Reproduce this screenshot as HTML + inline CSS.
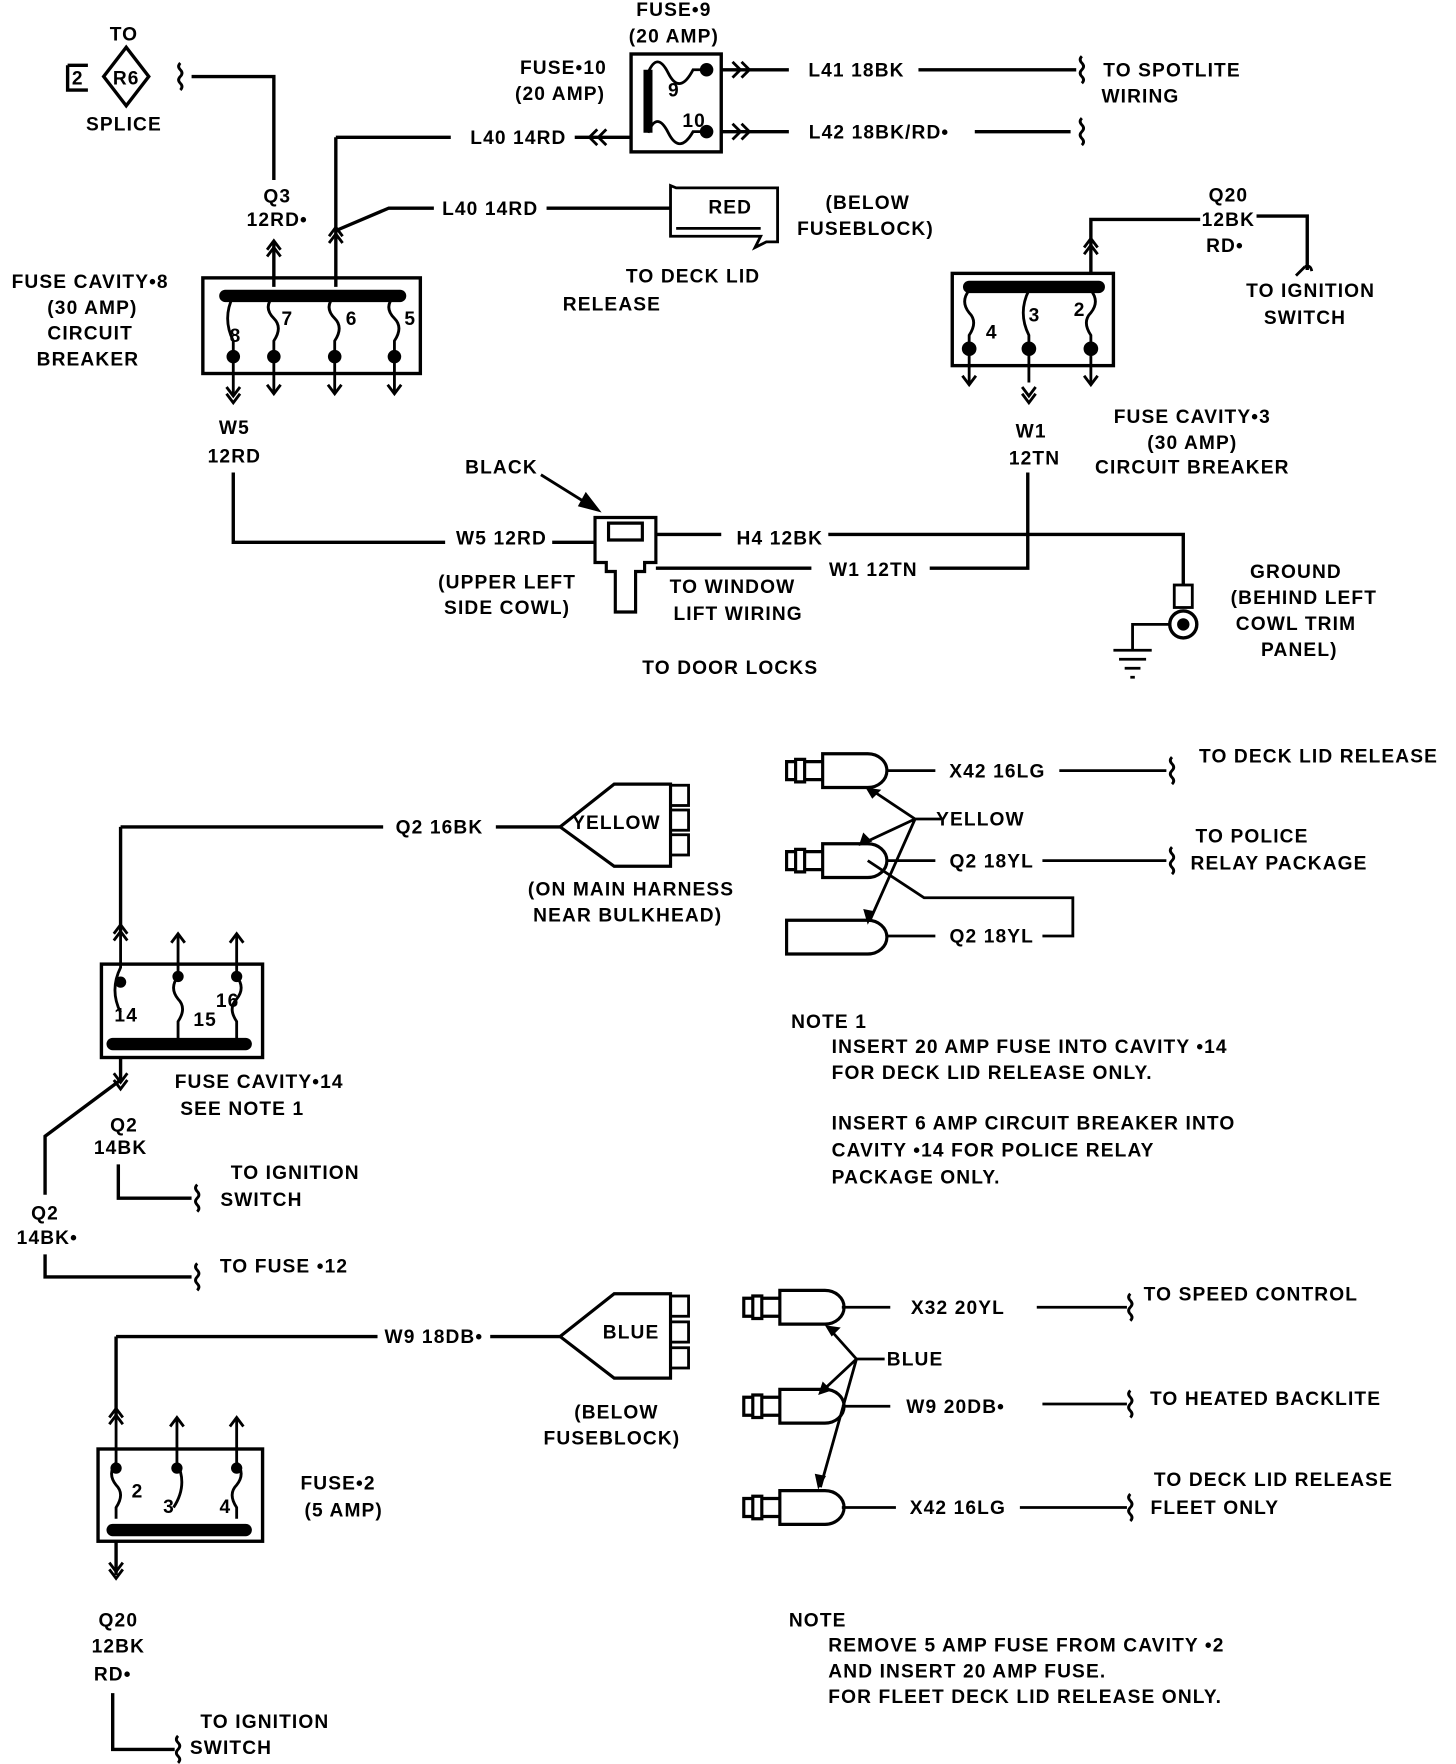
<!DOCTYPE html>
<html><head><meta charset="utf-8"><style>
html,body{margin:0;padding:0;background:#fff}
svg{display:block}
text{font-family:"Liberation Sans",sans-serif;font-size:17px;font-weight:bold;letter-spacing:1px;fill:#000;text-anchor:middle}
.l{text-anchor:start}
</style></head><body>
<svg width="1456" height="1764" viewBox="0 0 1292 1568" preserveAspectRatio="none" xmlns="http://www.w3.org/2000/svg">
<defs>
<g id="up"><path d="M-6,10 L0,2 L6,10 M-6,16 L0,8 L6,16" fill="none" stroke="#000" stroke-width="2.5"/></g>
<g id="up1"><path d="M-6,8 L0,0 L6,8" fill="none" stroke="#000" stroke-width="2.5"/></g>
<g id="dn1"><path d="M-6,-8 L0,0 L6,-8" fill="none" stroke="#000" stroke-width="2.5"/></g>
<g id="dn"><path d="M-6,-10 L0,-2 L6,-10 M-6,-16 L0,-8 L6,-16" fill="none" stroke="#000" stroke-width="2.5"/></g>
<g id="sq"><path d="M0,-12 q-3,3 0,6 q3,3 0,6 q-3,3 0,6 q3,3 0,6" fill="none" stroke="#000" stroke-width="2.5"/></g>
<g id="plug"><path d="M0,-8 h8 v16 h-8z M8,-10 h8 v20 h-8z M16,-8 h16 v16 h-16z M32,-15 h40 a17,15 0 0 1 0,30 h-40z" fill="none" stroke="#000" stroke-width="2.8"/></g>
</defs>
<g fill="none" stroke="#000" stroke-width="3">
<path d="M60,58 h18 M60,58 v22 h18 M112,42 L132,68 L112,94 L92,68 Z"/>
<use href="#sq" x="160" y="68"/>
<path d="M170,68 H243 V160"/>
<path d="M243,215 V255 M298,122 H400 M298,122 V255 M298,205 L345,185 H385 M485,185 H595"/>
<use href="#up" x="243" y="212"/><use href="#up" x="298" y="200"/>
<path d="M595,165 v45 h80 l-5,10 10,-5 h10 v-48 h-90 z M600,203 h75" stroke-width="2.5"/>
<rect x="560" y="48" width="80" height="87"/>
<path d="M575,62 V118" stroke-width="8"/>
<path d="M575,65 q8,-20 18,0 t22,-3 L627,62 M575,118 q8,-20 18,0 t22,-1 L627,117" stroke-width="2.5"/>
<path d="M510,122 H560 M640,62 H700 M640,117 H700 M815,62 H955 M865,117 H950"/>
<path d="M530,115 l-7,7 7,7 M538,115 l-7,7 7,7 M650,55 l7,7 -7,7 M658,55 l7,7 -7,7 M650,110 l7,7 -7,7 M658,110 l7,7 -7,7" stroke-width="2.5"/>
<use href="#sq" x="960" y="62"/><use href="#sq" x="960" y="117"/>
<rect x="180" y="247" width="193" height="85"/>
<path d="M200,263 H355" stroke-width="11" stroke-linecap="round"/>
<path d="M207,263 q-10,20 0,40 V350 M243,263 q-10,10 0,20 q8,8 0,20 V350 M297,263 q-10,10 0,20 q8,8 0,20 V350 M350,263 q-10,10 0,20 q8,8 0,20 V350" stroke-width="2.5"/>
<use href="#dn" x="207" y="360"/><use href="#dn1" x="243" y="350"/><use href="#dn1" x="297" y="350"/><use href="#dn1" x="350" y="350"/>
<path d="M207,420 V482 H395 M490,482 H528"/>
<path d="M528,460 h54 v40 h-10 v8 h-8 v36 h-18 v-36 h-8 v-8 h-10 z M540,465 v15 h30 v-15 z" stroke-width="2.8"/>
<path d="M480,422 L528,452" stroke-width="2.5"/><path d="M520,440 l10,13 -15,-4z" fill="#000"/>
<path d="M582,475 H640 M735,475 H1050 V520 M582,505 H720 M825,505 H912 V420"/>
<rect x="1042" y="520" width="16" height="20" stroke-width="2.5"/>
<circle cx="1050" cy="555" r="12"/><circle cx="1050" cy="555" r="4" fill="#000"/>
<path d="M1038,555 H1005 V578 M988,578 h34 M993,586 h24 M998,594 h14 M1003,602 h4" stroke-width="2.5"/>
<rect x="845" y="243" width="143" height="82"/>
<path d="M860,255 H975" stroke-width="11" stroke-linecap="round"/>
<path d="M860,258 q-8,10 0,20 q8,8 0,20 V340 M913,258 q-10,20 0,40 V340 M968,258 q8,10 0,20 q-8,8 0,20 V340" stroke-width="2.5"/>
<use href="#dn1" x="860" y="342"/><use href="#dn" x="913" y="360"/><use href="#dn1" x="968" y="342"/>
<circle cx="860" cy="310" r="5" fill="#000"/><circle cx="913" cy="310" r="5" fill="#000"/><circle cx="968" cy="310" r="5" fill="#000"/>
<path d="M968,243 V195 H1065 M1115,192 H1160 V240"/>
<path d="M1150,245 l8,-8 M1158,237 q5,-2 6,4" stroke-width="2.5"/>
<use href="#up" x="968" y="210"/>
<path d="M107,735 H340 M440,735 H497 M107,735 V830"/>
<path d="M497,735 L545,697 H595 V770 H545 Z" stroke-width="2.8"/>
<rect x="595" y="698" width="16" height="18" stroke-width="2.5"/><rect x="595" y="720" width="16" height="18" stroke-width="2.5"/><rect x="595" y="742" width="16" height="18" stroke-width="2.5"/>
<rect x="90" y="857" width="143" height="83"/>
<path d="M100,928 H218" stroke-width="11" stroke-linecap="round"/>
<path d="M107,830 V860 q-10,20 0,40 M158,830 V868 q-8,10 0,20 q8,8 0,20 v15 M210,830 V868 q8,10 0,20 q-8,8 0,20 v15" stroke-width="2.5"/>
<use href="#up" x="107" y="820"/><use href="#up1" x="158" y="830"/><use href="#up1" x="210" y="830"/>
<path d="M107,940 V960 L40,1010 V1062 M40,1115 V1135 H170 M105,1035 V1065 H170"/>
<use href="#dn" x="107" y="970"/>
<use href="#sq" x="175" y="1065"/><use href="#sq" x="175" y="1135"/>
<use href="#plug" x="698" y="685"/><use href="#plug" x="698" y="765"/>
<path d="M698,818 h72 a17,15 0 0 1 0,30 h-72 z" stroke-width="2.8"/>
<path d="M787,685 H830 M940,685 H1035 M787,765 H830 M925,765 H1035 M770,765 L820,798 H952 V832 H925 M787,832 H830 M835,728 H812 L770,700 M812,728 L765,750 M812,728 L772,818" stroke-width="2.5"/>
<use href="#sq" x="1040" y="685"/><use href="#sq" x="1040" y="765"/>
<path d="M103,1188 H335 M435,1188 H497 M103,1188 V1260"/>
<path d="M497,1188 L545,1150 H595 V1225 H545 Z" stroke-width="2.8"/>
<rect x="595" y="1152" width="16" height="18" stroke-width="2.5"/><rect x="595" y="1175" width="16" height="18" stroke-width="2.5"/><rect x="595" y="1198" width="16" height="18" stroke-width="2.5"/>
<rect x="87" y="1288" width="146" height="82"/>
<path d="M100,1360 H218" stroke-width="11" stroke-linecap="round"/>
<path d="M103,1260 V1300 q-8,10 0,20 q8,8 0,20 v10 M157,1260 V1300 q10,20 -3,40 M210,1260 V1300 q8,10 0,20 q-8,8 0,20 v10" stroke-width="2.5"/>
<use href="#up" x="103" y="1250"/><use href="#up1" x="157" y="1260"/><use href="#up1" x="210" y="1260"/>
<path d="M103,1370 V1400 M100,1505 V1555 H155"/>
<use href="#dn" x="103" y="1405"/>
<use href="#sq" x="158" y="1555"/>
<use href="#plug" x="660" y="1162"/><use href="#plug" x="660" y="1250"/><use href="#plug" x="660" y="1340"/>
<path d="M747,1162 H790 M920,1162 H1000 M747,1250 H790 M925,1248 H1000 M747,1340 H795 M905,1340 H1000 M785,1208 H760 L735,1180 M760,1208 L728,1238 M760,1208 L728,1322" stroke-width="2.5"/>
<use href="#sq" x="1003" y="1162"/><use href="#sq" x="1003" y="1248"/><use href="#sq" x="1003" y="1340"/>
</g>
<g fill="#000">
<circle cx="627" cy="62" r="6"/><circle cx="627" cy="117" r="6"/>
<circle cx="207" cy="317" r="6"/><circle cx="243" cy="317" r="6"/><circle cx="297" cy="317" r="6"/><circle cx="350" cy="317" r="6"/>
<circle cx="107" cy="873" r="5"/><circle cx="158" cy="868" r="5"/><circle cx="210" cy="868" r="5"/>
<circle cx="103" cy="1305" r="5"/><circle cx="157" cy="1305" r="5"/><circle cx="210" cy="1305" r="5"/>
<path d="M768,700 l14,2 -8,8z M762,752 l4,-12 8,8z M770,822 l-4,-14 10,2z M732,1178 l14,2 -8,8z M726,1240 l4,-12 8,8z M726,1324 l-3,-14 10,2z"/>
</g>
<g>
<text x="110" y="36">TO</text><text x="69" y="75">2</text><text x="112" y="75">R6</text><text x="110" y="116">SPLICE</text>
<text x="598" y="14">FUSE•9</text><text x="598" y="38">(20 AMP)</text>
<text x="500" y="66">FUSE•10</text><text x="497" y="89">(20 AMP)</text>
<text x="598" y="86" font-size="14">9</text><text x="616" y="113" font-size="14">10</text>
<text x="760" y="68">L41 18BK</text><text x="780" y="123">L42 18BK/RD•</text>
<text x="1040" y="68">TO SPOTLITE</text><text x="1012" y="91">WIRING</text>
<text x="460" y="128">L40 14RD</text><text x="435" y="191">L40 14RD</text>
<text x="648" y="190">RED</text>
<text x="770" y="186">(BELOW</text><text x="768" y="209">FUSEBLOCK)</text>
<text x="615" y="251">TO DECK LID</text><text x="543" y="276">RELEASE</text>
<text x="246" y="180">Q3</text><text x="246" y="201">12RD•</text>
<text x="80" y="256">FUSE CAVITY•8</text><text x="82" y="279">(30 AMP)</text><text x="80" y="302">CIRCUIT</text><text x="78" y="325">BREAKER</text>
<text x="209" y="304" font-size="15">8</text><text x="255" y="289" font-size="15">7</text><text x="312" y="289" font-size="15">6</text><text x="364" y="289" font-size="15">5</text>
<text x="208" y="386">W5</text><text x="208" y="411">12RD</text>
<text x="445" y="421">BLACK</text>
<text x="445" y="484">W5 12RD</text><text x="692" y="484">H4 12BK</text><text x="775" y="512">W1 12TN</text>
<text x="450" y="523">(UPPER LEFT</text><text x="450" y="546">SIDE COWL)</text>
<text x="650" y="527">TO WINDOW</text><text x="655" y="551">LIFT WIRING</text>
<text x="648" y="599">TO DOOR LOCKS</text>
<text x="915" y="389">W1</text><text x="918" y="413">12TN</text>
<text x="1150" y="514">GROUND</text><text x="1157" y="537">(BEHIND LEFT</text><text x="1150" y="560">COWL TRIM</text><text x="1153" y="583">PANEL)</text>
<text x="880" y="301" font-size="15">4</text><text x="918" y="286" font-size="15">3</text><text x="958" y="281" font-size="15">2</text>
<text x="1090" y="179">Q20</text><text x="1090" y="201">12BK</text><text x="1087" y="224">RD•</text>
<text x="1163" y="264">TO IGNITION</text><text x="1158" y="288">SWITCH</text>
<text x="1058" y="376">FUSE CAVITY•3</text><text x="1058" y="399">(30 AMP)</text><text x="1058" y="421">CIRCUIT BREAKER</text>
<text x="390" y="741">Q2 16BK</text><text x="547" y="737">YELLOW</text>
<text x="560" y="796">(ON MAIN HARNESS</text><text x="557" y="819">NEAR BULKHEAD)</text>
<text x="112" y="908" font-size="15">14</text><text x="182" y="912" font-size="15">15</text><text x="202" y="895" font-size="15">16</text>
<text x="230" y="967">FUSE CAVITY•14</text><text x="215" y="991">SEE NOTE 1</text>
<text x="110" y="1006">Q2</text><text x="107" y="1026">14BK</text>
<text x="262" y="1048">TO IGNITION</text><text x="232" y="1072">SWITCH</text>
<text x="40" y="1084">Q2</text><text x="42" y="1106">14BK•</text><text x="252" y="1131">TO FUSE •12</text>
<text x="885" y="691">X42 16LG</text><text x="1170" y="678">TO DECK LID RELEASE</text>
<text x="870" y="734" letter-spacing="0">YELLOW</text>
<text x="880" y="771">Q2 18YL</text><text x="1111" y="749">TO POLICE</text><text x="1135" y="773">RELAY PACKAGE</text>
<text x="880" y="838">Q2 18YL</text>
<text class="l" x="702" y="914">NOTE 1</text>
<text class="l" x="738" y="936">INSERT 20 AMP FUSE INTO CAVITY •14</text>
<text class="l" x="738" y="959">FOR DECK LID RELEASE ONLY.</text>
<text class="l" x="738" y="1004">INSERT 6 AMP CIRCUIT BREAKER INTO</text>
<text class="l" x="738" y="1028">CAVITY •14 FOR POLICE RELAY</text>
<text class="l" x="738" y="1052">PACKAGE ONLY.</text>
<text x="385" y="1194">W9 18DB•</text><text x="560" y="1190">BLUE</text>
<text x="547" y="1261">(BELOW</text><text x="543" y="1284">FUSEBLOCK)</text>
<text x="122" y="1331" font-size="15">2</text><text x="150" y="1345" font-size="15">3</text><text x="200" y="1345" font-size="15">4</text>
<text x="300" y="1324">FUSE•2</text><text x="305" y="1348">(5 AMP)</text>
<text x="105" y="1446">Q20</text><text x="105" y="1469">12BK</text><text x="100" y="1494">RD•</text>
<text x="235" y="1536">TO IGNITION</text><text x="205" y="1559">SWITCH</text>
<text x="850" y="1168">X32 20YL</text><text x="1110" y="1156">TO SPEED CONTROL</text>
<text x="812" y="1214" letter-spacing="0">BLUE</text>
<text x="848" y="1256">W9 20DB•</text><text x="1123" y="1249">TO HEATED BACKLITE</text>
<text x="850" y="1346">X42 16LG</text><text x="1130" y="1321">TO DECK LID RELEASE</text><text x="1078" y="1346">FLEET ONLY</text>
<text class="l" x="700" y="1446">NOTE</text>
<text class="l" x="735" y="1468">REMOVE 5 AMP FUSE FROM CAVITY •2</text>
<text class="l" x="735" y="1491">AND INSERT 20 AMP FUSE.</text>
<text class="l" x="735" y="1514">FOR FLEET DECK LID RELEASE ONLY.</text>
</g>
</svg>
</body></html>
